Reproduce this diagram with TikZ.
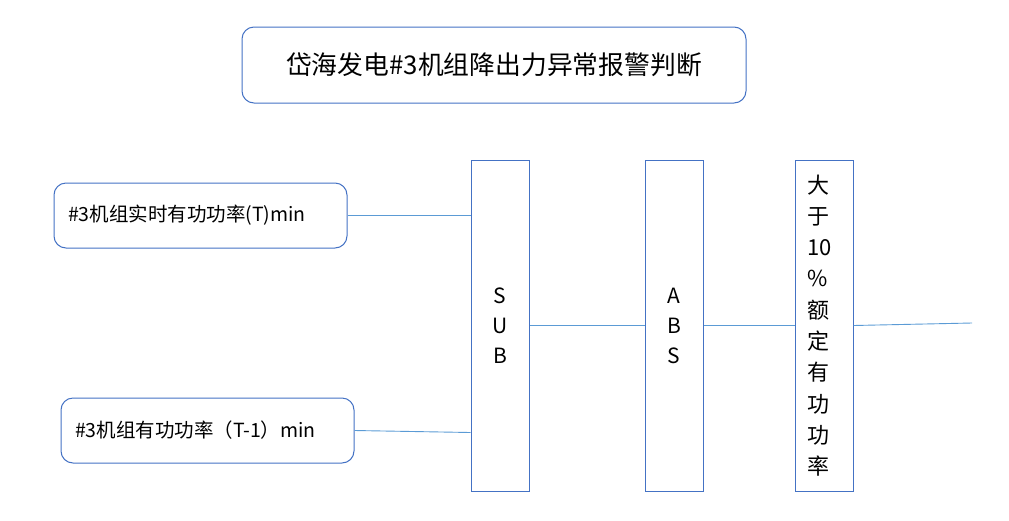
\documentclass[tikz,border=0pt]{standalone}
\usepackage{fontspec}
\newfontfamily\cjk{Noto Sans CJK SC}
\usepackage{tikz}
\usetikzlibrary{calc}
\definecolor{boxblue}{HTML}{4472C4}
\definecolor{wireblue}{HTML}{5B9BD5}
\tikzset{
  roundbox/.style={draw=boxblue,rounded corners=12pt,line width=1pt},
  inbox/.style={roundbox,minimum height=65pt,text width=265pt,inner xsep=14pt,align=left,font=\cjk\fontsize{19.5}{23}\selectfont},
  opbox/.style={draw=boxblue,line width=1pt,minimum width=58pt,minimum height=331pt,inner sep=0pt,font=\cjk\fontsize{21}{30}\selectfont},
  wire/.style={draw=wireblue,line width=.9pt}
}
\newcommand{\conn}[2]{\draw[wire] (#1) -- (#2);}
\begin{document}
\begin{tikzpicture}[x=1pt,y=-1pt]
		\useasboundingbox (0,0) rectangle (1009,520);
		\node[roundbox,minimum width=504pt,minimum height=76pt,font=\cjk\fontsize{25.8}{30}\selectfont](title) at (494,65) {岱海发电\#3机组降出力异常报警判断};
		\node[inbox](in1) at (200.5,215.5) {\#3机组实时有功功率(T)min};
		\node[inbox](in2) at (207.5,430.5) {\#3机组有功功率（T-1）min};
		\node[opbox,align=center](sub) at (500,325.5) {S\\U\\B};
		\node[opbox,align=center](abs) at (674,325.5) {A\\B\\S};
		\node[opbox,text width=34pt,inner xsep=12pt,align=left,font=\cjk\fontsize{22}{31.3}\selectfont](cmp) at (824,325.5) {大\\于\\10\\\%\\额\\定\\有\\功\\功\\率};
		\coordinate (out) at (972,323);
		
		\conn{in1.east}{in1.east -| sub.west}
		\conn{in2.east}{$(in2.east -| sub.west)+(0,2)$}
		\conn{sub.east}{abs.west}
		\conn{abs.east}{cmp.west}
		\conn{cmp.east}{out}
	\end{tikzpicture}
\end{document}
